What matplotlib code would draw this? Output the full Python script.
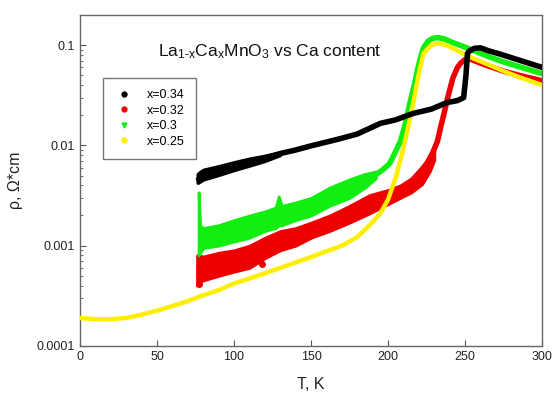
import matplotlib
matplotlib.use("Agg")
import matplotlib.pyplot as plt
from matplotlib.lines import Line2D
import numpy as np

plt.rcParams['font.family'] = ['Liberation Sans', 'DejaVu Sans']
plt.rcParams['mathtext.fontset'] = 'custom'
plt.rcParams['mathtext.rm'] = 'Liberation Sans'
plt.rcParams['mathtext.it'] = 'Liberation Sans'

# ---- data ----
series_labels = ["x=0.34", "x=0.32", "x=0.3", "x=0.25"]

# x = 0.34 (black)
T_black = [77, 80, 90, 100, 110, 120, 130, 140, 150, 160, 170, 180, 195, 205, 216, 228,
           238, 245, 249, 250.5, 251.5, 253, 256, 260, 265, 272, 280, 290, 300]
rho_black = [0.0046, 0.0051, 0.0056, 0.0062, 0.0068, 0.0075, 0.0083, 0.009, 0.0099, 0.0108,
             0.0118, 0.013, 0.0166, 0.018, 0.0208, 0.023, 0.0267, 0.028, 0.030, 0.05, 0.083,
             0.088, 0.093, 0.094, 0.088, 0.082, 0.075, 0.067, 0.060]
T_black_band = [76, 77, 80, 90, 100, 110, 120, 130]
rho_black_lo = [0.0042, 0.0042, 0.0045, 0.005, 0.0056, 0.0062, 0.0069, 0.0079]
rho_black_hi = [0.0052, 0.0054, 0.0058, 0.0063, 0.0069, 0.0075, 0.0080, 0.0086]

# x = 0.32 (red) noisy band at low T, then a line
T_red_band = [76, 77, 80, 90, 100, 110, 120, 130, 140, 150, 162, 175, 188, 200, 208, 215, 222, 227, 230]
rho_red_lo = [0.0004, 0.00043, 0.00045, 0.0005, 0.00055, 0.0006, 0.00075, 0.0009, 0.001, 0.0012,
              0.0014, 0.0017, 0.0021, 0.0026, 0.003, 0.0034, 0.0041, 0.0055, 0.0072]
rho_red_hi = [0.0008, 0.0008, 0.00078, 0.00085, 0.0009, 0.001, 0.0012, 0.0014, 0.0015, 0.0017,
              0.002, 0.0025, 0.0032, 0.0036, 0.004, 0.0047, 0.0062, 0.0078, 0.0088]
T_red = [222, 225, 229, 232, 234, 236, 238, 240, 242, 245, 247, 250, 253, 258, 265, 275, 285, 300]
rho_red = [0.0052, 0.0065, 0.0085, 0.011, 0.015, 0.02, 0.027, 0.036, 0.047, 0.06, 0.066, 0.072,
           0.073, 0.068, 0.062, 0.055, 0.05, 0.044]
T_red_out = [77, 118]
rho_red_out = [0.00041, 0.00066]

# x = 0.3 (green)
T_green_band = [77, 78, 80, 90, 100, 110, 120, 127, 129, 131, 140, 150, 162, 175, 185, 192]
rho_green_lo = [0.0008, 0.00085, 0.00095, 0.001, 0.0011, 0.0012, 0.0014, 0.0015, 0.0016, 0.0016,
                0.0018, 0.002, 0.0025, 0.003, 0.0038, 0.0047]
rho_green_hi = [0.0034, 0.0016, 0.0015, 0.0016, 0.0018, 0.0020, 0.0022, 0.0024, 0.0031, 0.0025,
                0.0027, 0.003, 0.0038, 0.0046, 0.0052, 0.0055]
T_green = [186, 192, 197, 201, 204, 208, 211, 214, 217, 219, 221, 223, 226, 229, 232, 236, 242, 248,
           255, 265, 275, 285, 300]
rho_green = [0.0045, 0.0051, 0.0058, 0.0066, 0.0082, 0.011, 0.016, 0.026, 0.04, 0.056, 0.075, 0.094,
             0.11, 0.117, 0.119, 0.116, 0.106, 0.098, 0.089, 0.077, 0.068, 0.061, 0.052]

# x = 0.25 (yellow)
T_yellow = [0, 10, 20, 30, 40, 50, 60, 70, 80, 90, 100, 110, 120, 130, 140, 150, 160, 170, 180,
            188, 195, 200, 205, 208, 211, 214, 217, 219, 221, 223, 228, 233, 238, 242, 247, 255,
            265, 275, 285, 300]
rho_yellow = [0.00019, 0.000185, 0.000185, 0.00019, 0.000205, 0.000225, 0.00025, 0.00028,
              0.00032, 0.00036, 0.00042, 0.00047, 0.00053, 0.0006, 0.00068, 0.00077, 0.00088,
              0.001, 0.00122, 0.0016, 0.0021, 0.0029, 0.0048, 0.0072, 0.011, 0.018, 0.03, 0.044,
              0.062, 0.083, 0.1, 0.104, 0.1, 0.093, 0.085, 0.074, 0.064, 0.055, 0.048, 0.040]

x_ticks = [0, 50, 100, 150, 200, 250, 300]
y_ticks = [0.0001, 0.001, 0.01, 0.1]
y_tick_labels = ["0.0001", "0.001", "0.01", "0.1"]

# ---- figure ----
fig = plt.figure(figsize=(5.55, 3.94), dpi=100)
ax = fig.add_axes([0.144, 0.122, 0.833, 0.840])

c_black, c_red, c_green, c_yellow = "#000000", "#ee0000", "#11ee11", "#ffee00"

ax.fill_between(T_black_band, rho_black_lo, rho_black_hi, color=c_black, lw=1.5, edgecolor=c_black, zorder=3)
ax.plot(T_black, rho_black, color=c_black, lw=4.0, solid_capstyle='round', zorder=3)

ax.fill_between(T_red_band, rho_red_lo, rho_red_hi, color=c_red, lw=2, edgecolor=c_red, zorder=2)
ax.plot(T_red, rho_red, color=c_red, lw=4.0, solid_capstyle='round', zorder=2)
ax.plot(T_red_out, rho_red_out, 'o', color=c_red, ms=4, zorder=2)

ax.fill_between(T_green_band, rho_green_lo, rho_green_hi, color=c_green, lw=2, edgecolor=c_green, zorder=2.5)
ax.plot(T_green, rho_green, color=c_green, lw=4.0, solid_capstyle='round', zorder=2.5)

ax.plot(T_yellow, rho_yellow, color=c_yellow, lw=3.2, solid_capstyle='round', zorder=2.8)

ax.set_yscale('log')
ax.set_xlim(0, 300)
ax.set_ylim(1e-4, 0.2)
ax.set_xticks(x_ticks)
ax.set_xticklabels([str(t) for t in x_ticks])
ax.set_yticks(y_ticks)
ax.set_yticklabels(y_tick_labels)
ax.tick_params(which='both', direction='in', colors='#555555', labelcolor='#222222', labelsize=9)
ax.tick_params(which='major', length=4)
ax.tick_params(which='minor', length=2.5)
ax.tick_params(axis='x', which='minor', bottom=False)
for s in ax.spines.values():
    s.set_color('#666666')
    s.set_linewidth(1.0)

ax.set_xlabel("T, K", fontsize=11.5, color='#222222', labelpad=10)
ax.set_ylabel("ρ, Ω*cm", fontsize=11.5, color='#222222', labelpad=10)

ax.text(0.169, 0.888,
        r"La$_{\mathrm{1}\text{-}\mathrm{x}}$Ca$_{\mathrm{x}}$MnO$_{\mathrm{3}}$ vs Ca content",
        transform=ax.transAxes, ha='left', va='center', fontsize=12.5, color='#111111')

handles = [
    Line2D([], [], ls='none', marker='o', color=c_black, ms=3.5),
    Line2D([], [], ls='none', marker='o', color=c_red, ms=3.5),
    Line2D([], [], ls='none', marker='v', color=c_green, ms=3.5),
    Line2D([], [], ls='none', marker='o', color=c_yellow, ms=3.5),
]
leg = ax.legend(handles, series_labels, loc='upper left', bbox_to_anchor=(0.05, 0.81),
                borderaxespad=0, fontsize=9, frameon=True, fancybox=False,
                labelspacing=0.28, borderpad=0.9, handlelength=1.6, handletextpad=1.0,
                edgecolor='#555555')
leg.get_frame().set_linewidth(1.0)

fig.savefig("out.png", dpi=100)
